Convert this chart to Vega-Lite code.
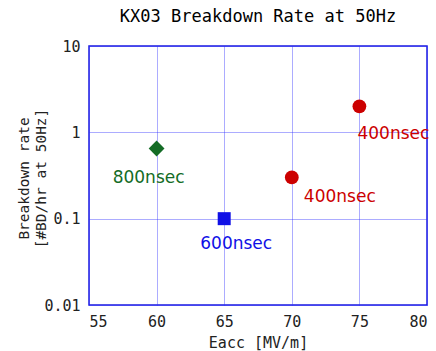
{
  "$schema": "https://vega.github.io/schema/vega-lite/v6.json",
  "autosize": "none",
  "padding": {"left": 89, "top": 46, "right": 9, "bottom": 46},
  "width": 338,
  "height": 259,
  "background": "white",
  "title": {"text": "KX03 Breakdown Rate at 50Hz", "font": "DejaVu Sans Mono", "fontSize": 17, "fontWeight": "normal", "color": "#000000", "offset": 13, "anchor": "middle"},
  "config": {
    "view": {"stroke": "#1a1ae0", "strokeWidth": 1.5},
    "axis": {"domain": false, "ticks": false, "grid": true, "gridColor": "#3030ff", "gridDash": [1, 1], "gridOpacity": 0.8, "gridWidth": 1,
      "labelFont": "DejaVu Sans Mono", "labelFontSize": 15, "labelColor": "#222222",
      "titleFont": "DejaVu Sans Mono", "titleFontSize": 15, "titleFontWeight": "normal", "titleColor": "#222222"}
  },
  "data": {"values": [
    {"eacc": 60, "rate": 0.65, "pulse": "800nsec"},
    {"eacc": 65, "rate": 0.1, "pulse": "600nsec"},
    {"eacc": 70, "rate": 0.3, "pulse": "400nsec"},
    {"eacc": 75, "rate": 2.0, "pulse": "400nsec"}
  ]},
  "encoding": {
    "x": {"field": "eacc", "type": "quantitative", "scale": {"domain": [55, 80], "nice": false, "zero": false},
      "axis": {"values": [55, 60, 65, 70, 75, 80], "title": "Eacc [MV/m]", "labelPadding": 9, "titleX": 169, "titleY": 37, "titleBaseline": "middle"}},
    "y": {"field": "rate", "type": "quantitative", "scale": {"type": "log", "domain": [0.01, 10], "nice": false},
      "axis": {"values": [0.01, 0.1, 1, 10], "format": "~g", "title": ["Breakdown rate", "[#BD/hr at 50Hz]"], "labelPadding": 9, "titleFontSize": 14.5, "titleLineHeight": 17, "titleX": -64.5, "titleY": 132, "titleBaseline": "middle", "titleAlign": "center", "titleAngle": -90}},
    "color": {"field": "pulse", "type": "nominal", "scale": {"domain": ["400nsec", "600nsec", "800nsec"], "range": ["#cc0000", "#1010e6", "#146c26"]}, "legend": null}
  },
  "layer": [
    {"mark": {"type": "point", "filled": true, "opacity": 1},
      "encoding": {
        "shape": {"field": "pulse", "type": "nominal", "scale": {"domain": ["400nsec", "600nsec", "800nsec"], "range": ["circle", "square", "diamond"]}, "legend": null},
        "size": {"field": "pulse", "type": "nominal", "scale": {"type": "ordinal", "domain": ["400nsec", "600nsec", "800nsec"], "range": [190, 169, 250]}, "legend": null}
      }},
    {"transform": [{"filter": "datum.eacc == 60"}], "mark": {"type": "text", "font": "DejaVu Sans", "fontSize": 17, "align": "center", "baseline": "middle", "dx": -8, "dy": 30}, "encoding": {"text": {"field": "pulse"}}},
    {"transform": [{"filter": "datum.eacc == 65"}], "mark": {"type": "text", "font": "DejaVu Sans", "fontSize": 17, "align": "center", "baseline": "middle", "dx": 12, "dy": 25}, "encoding": {"text": {"field": "pulse"}}},
    {"transform": [{"filter": "datum.eacc == 70"}], "mark": {"type": "text", "font": "DejaVu Sans", "fontSize": 17, "align": "center", "baseline": "middle", "dx": 48, "dy": 20}, "encoding": {"text": {"field": "pulse"}}},
    {"transform": [{"filter": "datum.eacc == 75"}], "mark": {"type": "text", "font": "DejaVu Sans", "fontSize": 17, "align": "center", "baseline": "middle", "dx": 34, "dy": 28}, "encoding": {"text": {"field": "pulse"}}}
  ]
}
